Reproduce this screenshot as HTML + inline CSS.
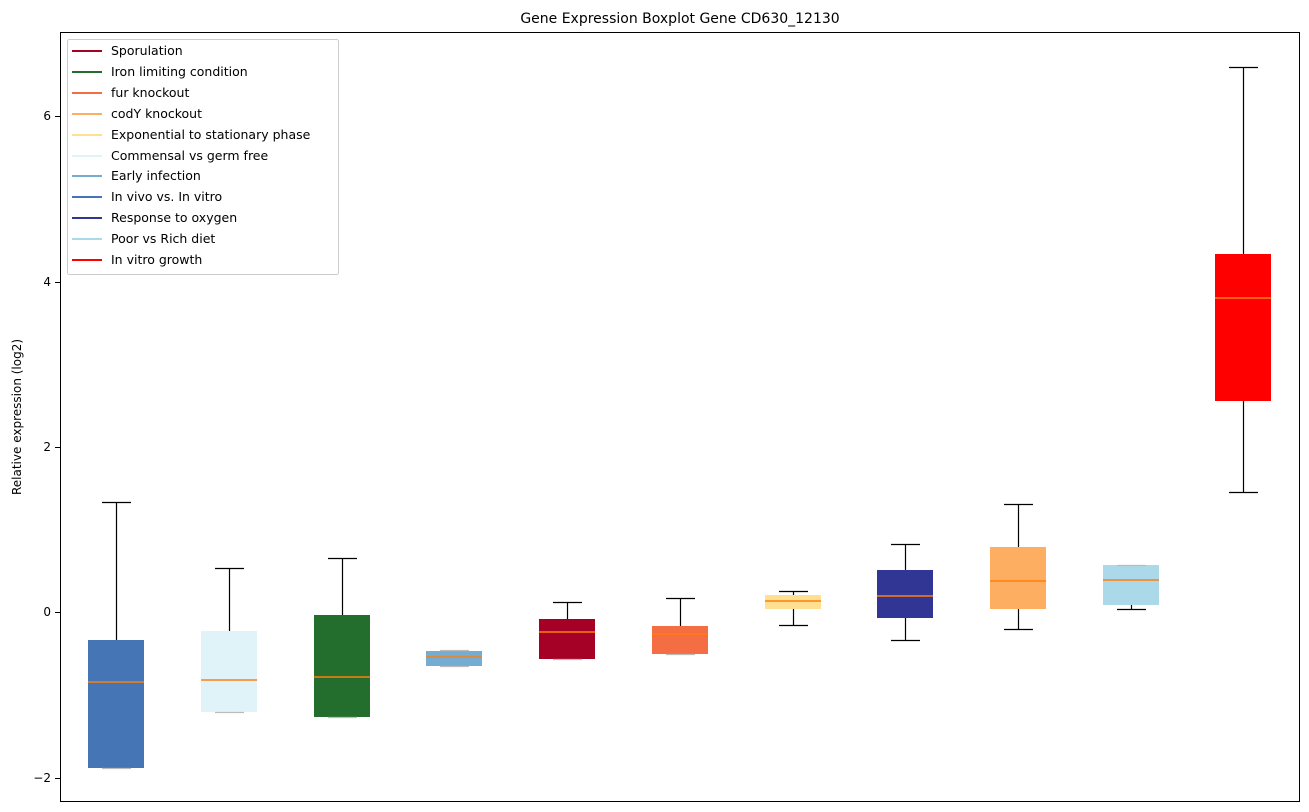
<!DOCTYPE html>
<html><head><meta charset="utf-8"><style>
body{margin:0;background:#fff;}
svg{display:block;font-family:"DejaVu Sans","Liberation Sans",sans-serif;}
</style></head><body>
<svg width="1309" height="812" viewBox="0 0 1309 812">
<rect width="1309" height="812" fill="#fff"/>
<text x="680" y="23" font-size="14" text-anchor="middle">Gene Expression Boxplot Gene CD630_12130</text>
<text transform="translate(21,417) rotate(-90)" font-size="12" text-anchor="middle">Relative expression (log2)</text>
<g font-size="12" text-anchor="end">
<line x1="55" x2="60" y1="116.5" y2="116.5" stroke="#000"/><text x="51" y="120">6</text>
<line x1="55" x2="60" y1="282.5" y2="282.5" stroke="#000"/><text x="51" y="286">4</text>
<line x1="55" x2="60" y1="447.5" y2="447.5" stroke="#000"/><text x="51" y="451">2</text>
<line x1="55" x2="60" y1="612.5" y2="612.5" stroke="#000"/><text x="51" y="616">0</text>
<line x1="55" x2="60" y1="778.5" y2="778.5" stroke="#000"/><text x="51" y="782">−2</text>
</g>
<g stroke-width="1.2">
<rect x="88" y="640" width="56" height="128" fill="#4575b4"/><line x1="88" x2="144" y1="682" y2="682" stroke="#ff7f0e" stroke-width="1.5"/>
<g stroke="#000"><line x1="116.5" x2="116.5" y1="502" y2="640"/><line x1="102" x2="131" y1="502.5" y2="502.5"/><line x1="102" x2="131" y1="768.5" y2="768.5" stroke="#bbb"/></g>

<rect x="201" y="631" width="56" height="81" fill="#e0f3f8"/><line x1="201" x2="257" y1="680" y2="680" stroke="#ff7f0e" stroke-width="1.5"/>
<g stroke="#000"><line x1="229.5" x2="229.5" y1="568" y2="631"/><line x1="215" x2="244" y1="568.5" y2="568.5"/><line x1="215" x2="244" y1="712.5" y2="712.5" stroke="#bbb"/></g>

<rect x="314" y="615" width="56" height="102" fill="#236e2d"/><line x1="314" x2="370" y1="677" y2="677" stroke="#ff7f0e" stroke-width="1.5"/>
<g stroke="#000"><line x1="342.5" x2="342.5" y1="558" y2="615"/><line x1="328" x2="357" y1="558.5" y2="558.5"/><line x1="328" x2="357" y1="717.5" y2="717.5" stroke="#bbb"/></g>

<rect x="426" y="651" width="56" height="15" fill="#74add1"/><line x1="426" x2="482" y1="657" y2="657" stroke="#ff7f0e" stroke-width="1.5"/>
<g stroke="#bbb"><line x1="440" x2="469" y1="650.5" y2="650.5"/><line x1="440" x2="469" y1="666.5" y2="666.5"/></g>

<rect x="539" y="619" width="56" height="40" fill="#a50026"/><line x1="539" x2="595" y1="632" y2="632" stroke="#ff7f0e" stroke-width="1.5"/>
<g stroke="#000"><line x1="567.5" x2="567.5" y1="602" y2="619"/><line x1="553" x2="582" y1="602.5" y2="602.5"/><line x1="553" x2="582" y1="659.5" y2="659.5" stroke="#bbb"/></g>

<rect x="652" y="626" width="56" height="28" fill="#f46d43"/><line x1="652" x2="708" y1="634" y2="634" stroke="#ff7f0e" stroke-width="1.5"/>
<g stroke="#000"><line x1="680.5" x2="680.5" y1="598" y2="626"/><line x1="666" x2="695" y1="598.5" y2="598.5"/><line x1="666" x2="695" y1="654.5" y2="654.5" stroke="#bbb"/></g>

<rect x="765" y="595" width="56" height="14" fill="#fee090"/><line x1="765" x2="821" y1="601" y2="601" stroke="#ff7f0e" stroke-width="1.5"/>
<g stroke="#000"><line x1="793.5" x2="793.5" y1="591" y2="595"/><line x1="793.5" x2="793.5" y1="609" y2="625"/><line x1="779" x2="808" y1="591.5" y2="591.5"/><line x1="779" x2="808" y1="625.5" y2="625.5"/></g>

<rect x="877" y="570" width="56" height="48" fill="#313695"/><line x1="877" x2="933" y1="596" y2="596" stroke="#ff7f0e" stroke-width="1.5"/>
<g stroke="#000"><line x1="905.5" x2="905.5" y1="544" y2="570"/><line x1="905.5" x2="905.5" y1="618" y2="640"/><line x1="891" x2="920" y1="544.5" y2="544.5"/><line x1="891" x2="920" y1="640.5" y2="640.5"/></g>

<rect x="990" y="547" width="56" height="62" fill="#fdae61"/><line x1="990" x2="1046" y1="581" y2="581" stroke="#ff7f0e" stroke-width="1.5"/>
<g stroke="#000"><line x1="1018.5" x2="1018.5" y1="504" y2="547"/><line x1="1018.5" x2="1018.5" y1="609" y2="629"/><line x1="1004" x2="1033" y1="504.5" y2="504.5"/><line x1="1004" x2="1033" y1="629.5" y2="629.5"/></g>

<rect x="1103" y="565" width="56" height="40" fill="#abd9e9"/><line x1="1103" x2="1159" y1="580" y2="580" stroke="#ff7f0e" stroke-width="1.5"/>
<g stroke="#000"><line x1="1131.5" x2="1131.5" y1="605" y2="609"/><line x1="1117" x2="1146" y1="565.5" y2="565.5" stroke="#bbb"/><line x1="1117" x2="1146" y1="609.5" y2="609.5"/></g>

<rect x="1215" y="254" width="56" height="147" fill="#ff0000"/><line x1="1215" x2="1271" y1="298" y2="298" stroke="#ff7f0e" stroke-width="1.5"/>
<g stroke="#000"><line x1="1243.5" x2="1243.5" y1="67" y2="254"/><line x1="1243.5" x2="1243.5" y1="401" y2="492"/><line x1="1229" x2="1258" y1="67.5" y2="67.5"/><line x1="1229" x2="1258" y1="492.5" y2="492.5"/></g>
</g>
<rect x="60.5" y="32.5" width="1239" height="769" fill="none" stroke="#000"/>
<g font-size="12.5">
<rect x="67.5" y="39.5" width="271" height="235" rx="2" fill="#fff" fill-opacity="0.8" stroke="#ccc"/>
<g stroke-width="2">
<line x1="72" x2="102" y1="51" y2="51" stroke="#a50026"/>
<line x1="72" x2="102" y1="72" y2="72" stroke="#236e2d"/>
<line x1="72" x2="102" y1="93" y2="93" stroke="#f46d43"/>
<line x1="72" x2="102" y1="114" y2="114" stroke="#fdae61"/>
<line x1="72" x2="102" y1="135" y2="135" stroke="#fee090"/>
<line x1="72" x2="102" y1="156" y2="156" stroke="#e0f3f8"/>
<line x1="72" x2="102" y1="176" y2="176" stroke="#74add1"/>
<line x1="72" x2="102" y1="197" y2="197" stroke="#4575b4"/>
<line x1="72" x2="102" y1="218" y2="218" stroke="#313695"/>
<line x1="72" x2="102" y1="239" y2="239" stroke="#abd9e9"/>
<line x1="72" x2="102" y1="260" y2="260" stroke="#ff0000"/>
</g>
<text x="111" y="55">Sporulation</text>
<text x="111" y="76">Iron limiting condition</text>
<text x="111" y="97">fur knockout</text>
<text x="111" y="118">codY knockout</text>
<text x="111" y="139">Exponential to stationary phase</text>
<text x="111" y="160">Commensal vs germ free</text>
<text x="111" y="180">Early infection</text>
<text x="111" y="201">In vivo vs. In vitro</text>
<text x="111" y="222">Response to oxygen</text>
<text x="111" y="243">Poor vs Rich diet</text>
<text x="111" y="264">In vitro growth</text>
</g>
</svg>
</body></html>
